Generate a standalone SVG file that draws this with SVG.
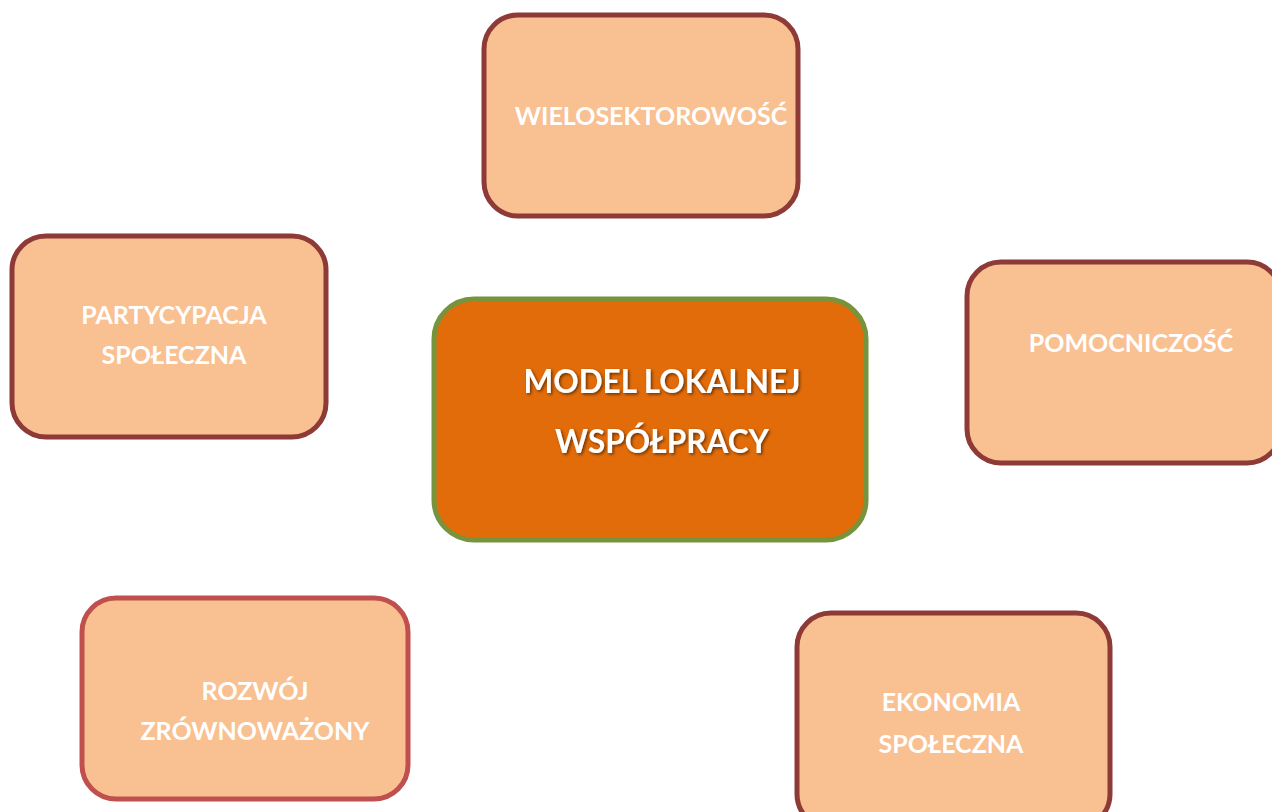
<svg xmlns="http://www.w3.org/2000/svg" width="1272" height="812" viewBox="0 0 1272 812">
<defs>
<style>
.box{fill:#F9C091;stroke:#8E3B38;stroke-width:5}
.box2{fill:#F9C091;stroke:#C0504D;stroke-width:5}
.t{font-family:Lato,"Open Sans",sans-serif;font-weight:bold;font-size:25px;fill:#ffffff;text-anchor:middle}
.c{font-family:Lato,"Open Sans",sans-serif;font-weight:bold;font-size:31.5px;fill:#ffffff;text-anchor:middle;filter:url(#sh)}
</style>
<filter id="sh" x="-10%" y="-30%" width="120%" height="160%">
<feDropShadow dx="1.5" dy="1.5" stdDeviation="1.5" flood-color="#000" flood-opacity="0.55"/>
</filter>
</defs>
<g id="connectors"></g>
<g id="center">
<rect x="434" y="299" width="432" height="241" rx="40" fill="#E36C0A" stroke="#77933C" stroke-width="5"/>
<text class="c" x="662" y="393">MODEL LOKALNEJ</text>
<text class="c" x="662" y="453">WSPÓŁPRACY</text>
</g>
<g id="n1">
<rect class="box" x="484" y="15" width="314" height="201" rx="34"/>
<text class="t" x="651" y="125">WIELOSEKTOROWOŚĆ</text>
</g>
<g id="n2">
<rect class="box" x="12" y="236" width="314" height="201" rx="34"/>
<text class="t" x="174" y="324">PARTYCYPACJA</text>
<text class="t" x="174" y="364">SPOŁECZNA</text>
</g>
<g id="n3">
<rect class="box" x="967" y="262" width="314" height="201" rx="34"/>
<text class="t" x="1131" y="352">POMOCNICZOŚĆ</text>
</g>
<g id="n4">
<rect class="box2" x="82" y="598" width="326" height="201" rx="34"/>
<text class="t" x="255" y="700">ROZWÓJ</text>
<text class="t" x="255" y="740">ZRÓWNOWAŻONY</text>
</g>
<g id="n5">
<rect class="box" x="797" y="613" width="313" height="215" rx="34"/>
<text class="t" x="951" y="711">EKONOMIA</text>
<text class="t" x="951" y="753">SPOŁECZNA</text>
</g>
</svg>
